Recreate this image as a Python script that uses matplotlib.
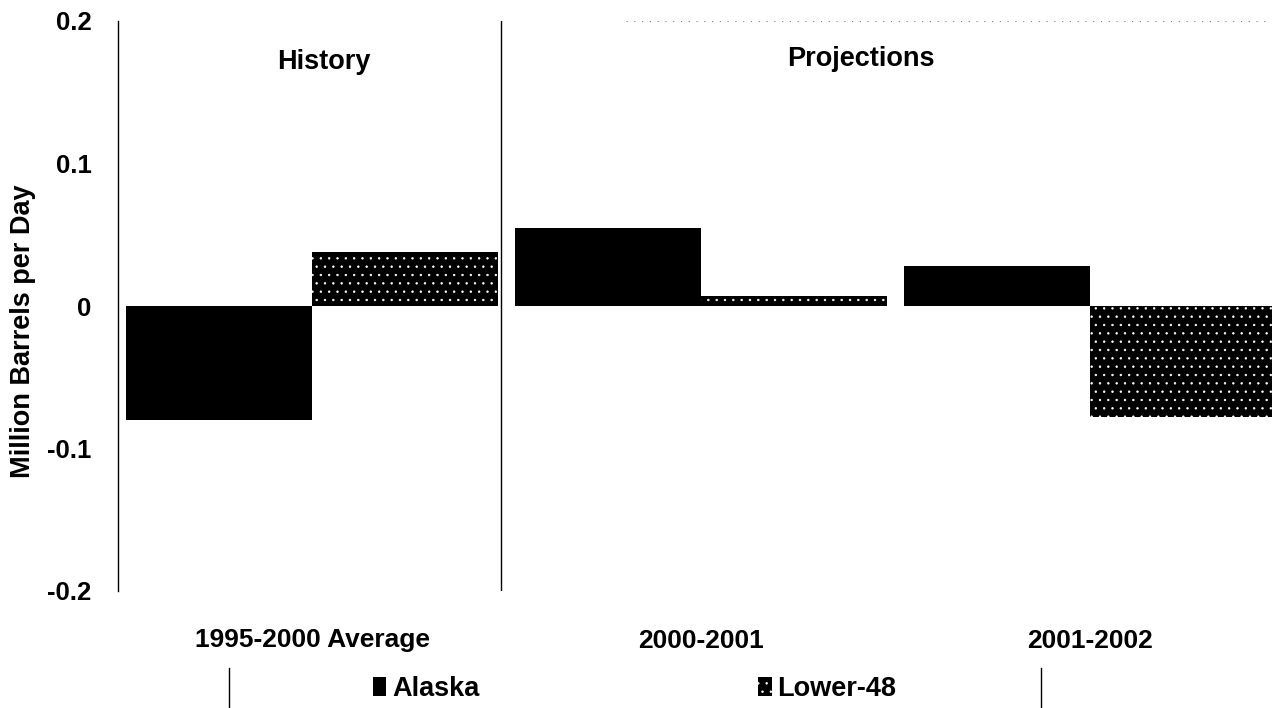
import matplotlib
matplotlib.use("Agg")
import matplotlib.pyplot as plt
from matplotlib.lines import Line2D
import numpy as np

# change in crude oil production, million barrels per day
periods = ["1995-2000 Average", "2000-2001", "2001-2002"]
alaska = [-0.080, 0.055, 0.028]
lower48 = [0.038, 0.007, -0.078]
series_names = ["Alaska", "Lower-48"]
yticks = [-0.2, -0.1, 0, 0.1, 0.2]
ytick_labels = ["-0.2", "-0.1", "0", "0.1", "0.2"]

plt.rcParams["font.family"] = ["Liberation Sans", "DejaVu Sans"]
plt.rcParams["font.weight"] = "bold"
plt.rcParams["hatch.linewidth"] = 0.5

fig = plt.figure(figsize=(12.72, 7.08), dpi=100)
ax = fig.add_axes([118 / 1272, 1 - 591 / 708, 1 - 118 / 1272, 570 / 708])

x = np.arange(len(periods))
w = 0.478
bars_ak = ax.bar(x - w / 2, alaska, w, color="black", linewidth=0)
bars_l48 = ax.bar(x + w / 2, lower48, w, color="black", edgecolor="white",
                  linewidth=0, hatch="..")

ax.set_xlim(-0.499, 2.468)
ax.set_ylim(-0.2, 0.2)
ax.set_xticks(x)
ax.set_xticklabels(periods, fontsize=19, fontweight="bold")
ax.set_yticks(yticks)
ax.set_yticklabels(ytick_labels, fontsize=18.5, fontweight="bold")
ax.tick_params(axis="y", length=0, pad=19)
ax.tick_params(axis="x", length=0, pad=27)

for side in ["top", "right", "bottom"]:
    ax.spines[side].set_visible(False)
ax.spines["left"].set_linewidth(1.0)

# faint remains of the plot frame
ax.axhline(0.2, xmin=0.44, xmax=1.0, color="gray", lw=0.8, ls=(0, (1, 6)))
ax.axhline(-0.2, xmin=0.5, xmax=1.0, color="gray", lw=0.8, ls=(0, (1, 6)))

# history / projections split
ax.axvline(0.486, color="black", lw=1.0)
ax.text(0.03, 0.171, "History", ha="center", va="center", fontsize=19.5, fontweight="bold")
ax.text(1.41, 0.173, "Projections", ha="center", va="center", fontsize=19.5, fontweight="bold")

fig.text(23 / 1272, 1 - 331 / 708, "Million Barrels per Day", rotation=90,
         ha="center", va="center", fontsize=19.5, fontweight="bold")

fig.legend([bars_ak, bars_l48], series_names, loc="center",
           bbox_to_anchor=(634.5 / 1272, 1 - 689 / 708), ncol=2, frameon=False,
           prop={"size": 19.5, "weight": "bold"}, handlelength=0.5,
           handleheight=0.7, handletextpad=0.2, columnspacing=10.3)

# legend box sides
for px in [229, 1041]:
    fig.add_artist(Line2D([px / 1272, px / 1272], [0, 1 - 668 / 708],
                          color="black", lw=1.0, transform=fig.transFigure))

fig.savefig("out.png", dpi=100)
